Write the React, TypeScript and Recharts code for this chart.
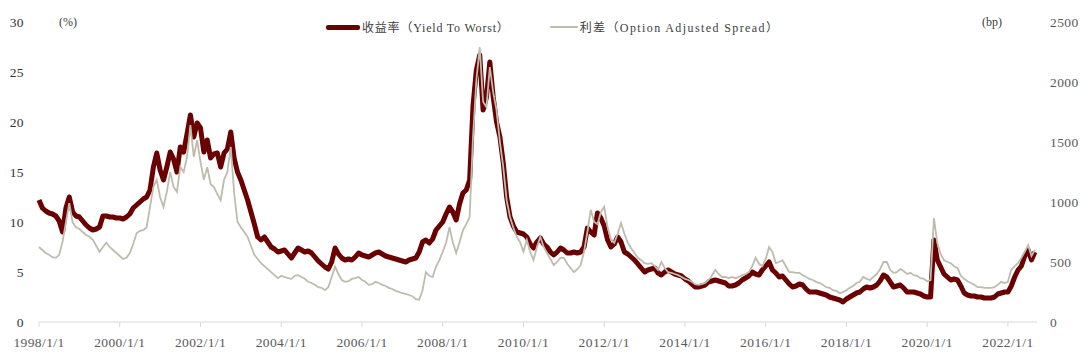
import React from "react";
import { LineChart, Line, XAxis, YAxis, Legend } from "recharts";

const FONT = "'Liberation Serif', 'Noto Sans CJK SC', serif";

const yearTicks = [1998, 2000, 2002, 2004, 2006, 2008, 2010, 2012, 2014, 2016, 2018, 2020, 2022];
const pctTicks = [0, 5, 10, 15, 20, 25, 30];
const bpTicks = [0, 500, 1000, 1500, 2000, 2500];

// monthly, Jan 1998 .. Sep 2022
// yield to worst, %
const ytw = [
  12.2, 11.4, 11.1, 10.9, 10.8, 10.6, 10.1, 9.0, 11.4, 12.5, 11.0, 10.6, // 1998
  10.5, 10.1, 9.7, 9.4, 9.2, 9.3, 9.5, 10.6, 10.6, 10.5, 10.5, 10.4, // 1999
  10.4, 10.3, 10.5, 10.8, 11.4, 11.7, 12.0, 12.3, 12.5, 13.2, 15.5, 16.9, // 2000
  15.2, 14.2, 15.5, 17.0, 16.3, 15.0, 17.5, 17.0, 18.8, 20.7, 18.5, 19.9, // 2001
  19.4, 17.0, 18.2, 16.4, 16.8, 16.9, 15.5, 16.9, 17.3, 19.0, 16.4, 15.0, // 2002
  14.2, 13.2, 12.2, 11.0, 9.8, 8.5, 8.2, 8.5, 8.0, 7.5, 7.3, 7.0, // 2003
  7.1, 7.2, 6.8, 6.4, 6.9, 7.4, 7.2, 7.0, 7.1, 6.9, 6.5, 6.1, // 2004
  5.8, 5.5, 5.3, 6.0, 7.4, 6.8, 6.4, 6.2, 6.3, 6.2, 6.5, 6.9, // 2005
  6.7, 6.6, 6.5, 6.7, 6.9, 7.0, 6.8, 6.6, 6.5, 6.4, 6.3, 6.2, // 2006
  6.1, 6.0, 6.2, 6.3, 6.4, 7.0, 8.0, 8.2, 7.9, 8.3, 9.2, 9.6, // 2007
  10.0, 10.8, 11.5, 11.0, 10.2, 11.8, 12.9, 13.2, 14.2, 21.6, 25.2, 26.7, // 2008
  21.2, 22.5, 26.0, 22.5, 20.0, 18.5, 15.9, 12.5, 10.5, 9.6, 9.0, 8.9, // 2009
  8.8, 8.5, 7.8, 7.4, 8.0, 8.4, 7.8, 7.5, 7.0, 6.7, 7.0, 7.4, // 2010
  7.2, 6.9, 6.9, 7.0, 6.9, 7.0, 7.5, 9.4, 9.0, 8.7, 10.9, 10.4, // 2011
  9.6, 8.2, 7.5, 7.8, 8.5, 8.0, 7.0, 6.8, 6.5, 6.2, 5.8, 5.4, // 2012
  5.0, 5.2, 5.3, 5.4, 4.9, 4.7, 5.0, 5.2, 5.0, 4.8, 4.7, 4.6, // 2013
  4.3, 4.1, 3.8, 3.5, 3.5, 3.6, 3.7, 4.0, 4.1, 4.2, 4.1, 4.0, // 2014
  3.9, 3.6, 3.6, 3.7, 3.9, 4.2, 4.4, 4.6, 5.0, 4.8, 4.7, 5.2, // 2015
  5.6, 6.0, 5.2, 4.9, 4.5, 4.6, 4.2, 3.8, 3.5, 3.6, 3.8, 3.7, // 2016
  3.3, 3.0, 3.0, 3.0, 2.9, 2.8, 2.7, 2.5, 2.4, 2.3, 2.2, 2.0, // 2017
  2.3, 2.5, 2.7, 2.9, 3.0, 3.3, 3.5, 3.4, 3.5, 3.7, 4.1, 4.7, // 2018
  4.5, 4.0, 3.5, 3.6, 3.7, 3.4, 3.0, 3.0, 3.0, 2.9, 2.8, 2.6, // 2019
  2.5, 2.5, 8.2, 6.2, 5.5, 4.8, 4.5, 4.2, 4.3, 4.2, 3.6, 2.9, // 2020
  2.7, 2.6, 2.6, 2.5, 2.5, 2.4, 2.4, 2.4, 2.5, 2.8, 2.9, 3.0, // 2021
  3.0, 3.6, 4.5, 5.2, 5.6, 6.6, 7.2, 6.2, 7.0, // 2022
];

// option adjusted spread, bp
const oas = [
  625, 600, 575, 560, 540, 535, 560, 670, 830, 990, 830, 790, // 1998
  775, 750, 725, 710, 685, 635, 585, 625, 660, 625, 600, 575, // 1999
  550, 525, 535, 575, 650, 740, 760, 765, 790, 960, 1125, 1185, // 2000
  1040, 960, 1085, 1250, 1125, 1085, 1290, 1250, 1375, 1640, 1375, 1515, // 2001
  1335, 1185, 1290, 1150, 1125, 1065, 1015, 1185, 1250, 1460, 1075, 835, // 2002
  790, 750, 710, 635, 560, 525, 490, 465, 440, 415, 390, 365, // 2003
  385, 375, 365, 360, 385, 390, 375, 360, 335, 325, 310, 290, // 2004
  285, 265, 290, 375, 460, 400, 350, 335, 340, 360, 365, 375, // 2005
  350, 335, 310, 315, 335, 325, 310, 300, 285, 275, 260, 250, // 2006
  240, 235, 225, 215, 190, 185, 265, 415, 385, 375, 460, 515, // 2007
  585, 660, 790, 665, 575, 665, 765, 815, 875, 1540, 2015, 2290, // 2008
  1835, 1790, 2125, 1915, 1765, 1500, 1290, 1015, 875, 785, 710, 665, // 2009
  585, 685, 585, 515, 625, 710, 625, 575, 525, 475, 500, 535, // 2010
  535, 485, 450, 415, 440, 475, 585, 750, 935, 835, 815, 915, // 2011
  960, 790, 690, 660, 735, 825, 735, 660, 615, 575, 535, 515, // 2012
  490, 485, 490, 465, 435, 500, 450, 415, 410, 400, 390, 375, // 2013
  360, 350, 335, 315, 310, 315, 325, 350, 385, 435, 400, 375, // 2014
  375, 365, 375, 365, 375, 390, 400, 415, 465, 535, 485, 465, // 2015
  525, 625, 585, 490, 500, 515, 465, 415, 415, 410, 410, 390, // 2016
  375, 360, 350, 335, 325, 310, 290, 285, 265, 260, 240, 250, // 2017
  265, 285, 300, 325, 335, 375, 360, 350, 375, 400, 440, 500, // 2018
  500, 435, 410, 415, 440, 425, 400, 410, 390, 385, 365, 360, // 2019
  340, 350, 865, 660, 565, 515, 500, 490, 465, 450, 385, 360, // 2020
  340, 325, 310, 290, 290, 285, 285, 285, 290, 310, 335, 325, // 2021
  335, 435, 465, 490, 535, 585, 640, 550, 600, // 2022
];

const data = ytw.map((v, i) => ({ t: 1998 + i / 12, ytw: v, oas: oas[i] }));

const YTW_COLOR = "#6B0000";
const OAS_COLOR = "#BDBCAD";

const legendItems = [
  { label: "收益率（Yield To Worst）", color: YTW_COLOR, width: 5, len: 34, spacing: 0.8 },
  { label: "利差（Option Adjusted Spread）", color: OAS_COLOR, width: 2, len: 28, spacing: 1.4 },
];

const renderLegend = () => (
  <div style={{ display: "flex", alignItems: "center", fontFamily: FONT, fontSize: 12, color: "#404040" }}>
    {legendItems.map((it, i) => (
      <div key={i} style={{ display: "flex", alignItems: "center", marginRight: i === 0 ? 40 : 0 }}>
        <span style={{ display: "inline-block", width: it.len, height: it.width, background: it.color, borderRadius: 2, marginRight: 2 }} />
        <span style={{ whiteSpace: "nowrap", letterSpacing: it.spacing }}>{it.label}</span>
      </div>
    ))}
  </div>
);

const tickStyle = { fontFamily: FONT, fontSize: 13.5, fill: "#595959", letterSpacing: 0.4 };

export default function App() {
  return (
    <div style={{ position: "absolute", left: 0, top: 0, width: 1080, height: 361, background: "#fff" }}>
      <LineChart width={1080} height={361} data={data} margin={{ top: 22, right: 0, bottom: 9, left: 0 }}>
        <XAxis
          dataKey="t"
          type="number"
          domain={[1998, 2022.72]}
          ticks={yearTicks}
          interval={0}
          tickFormatter={(v) => `${v}/1/1`}
          height={30}
          tickSize={5}
          tickMargin={10}
          axisLine={{ stroke: "#d9d9d9" }}
          tickLine={{ stroke: "#d9d9d9" }}
          tick={tickStyle}
        />
        <YAxis
          yAxisId="pct"
          orientation="left"
          width={39}
          domain={[0, 30]}
          ticks={pctTicks}
          interval={0}
          axisLine={false}
          tickLine={false}
          tickSize={0}
          tickMargin={15}
          tick={{ ...tickStyle, fill: "#333" }}
        />
        <YAxis
          yAxisId="bp"
          orientation="right"
          width={43}
          domain={[0, 2500]}
          ticks={bpTicks}
          interval={0}
          axisLine={false}
          tickLine={false}
          tickSize={0}
          tickMargin={13}
          tick={tickStyle}
        />
        <Legend
          layout="horizontal"
          verticalAlign="middle"
          align="center"
          content={renderLegend}
          wrapperStyle={{ top: 18, left: 326, width: 480 }}
        />
        <Line
          yAxisId="pct"
          dataKey="ytw"
          type="linear"
          stroke={YTW_COLOR}
          strokeWidth={5}
          strokeLinejoin="round"
          dot={false}
          isAnimationActive={false}
        />
        <Line
          yAxisId="bp"
          dataKey="oas"
          type="linear"
          stroke={OAS_COLOR}
          strokeWidth={1.8}
          dot={false}
          isAnimationActive={false}
        />
      </LineChart>
      <span style={{ position: "absolute", left: 59, top: 15, fontFamily: FONT, fontSize: 12, color: "#404040" }}>(%)</span>
      <span style={{ position: "absolute", left: 982, top: 15, fontFamily: FONT, fontSize: 12, color: "#404040" }}>(bp)</span>
    </div>
  );
}
